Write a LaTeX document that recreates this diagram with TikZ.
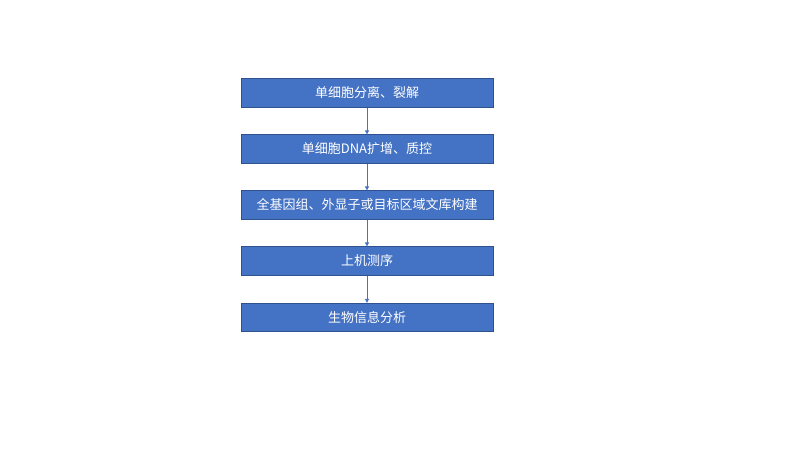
\documentclass[tikz,border=0pt]{standalone}
\usepackage{fontspec}
\newfontfamily\cjk{Noto Sans CJK SC}
\usetikzlibrary{arrows.meta}
\definecolor{boxfill}{HTML}{4472C4}
\definecolor{boxline}{HTML}{2F528F}
\begin{document}
\begin{tikzpicture}[x=1pt,y=1pt,
  stepbox/.style={draw=boxline,line width=0.8pt,fill=boxfill,minimum width=252pt,minimum height=28.5pt,inner sep=0pt,text=white,font=\cjk\fontsize{13}{15}\selectfont},
  conn/.style={draw=boxfill,line width=0.9pt,-{Triangle[length=4pt,width=4pt]}}]
\useasboundingbox[fill=white] (0,0) rectangle (800,450);
\node[stepbox] (s1) at (367,357) {单细胞分离、裂解};
\node[stepbox] (s2) at (367,301) {单细胞DNA扩增、质控};
\node[stepbox] (s3) at (367,245) {全基因组、外显子或目标区域文库构建};
\node[stepbox] (s4) at (367,189) {上机测序};
\node[stepbox] (s5) at (367,132.5) {生物信息分析};
\draw[conn] (s1) -- (s2);
\draw[conn] (s2) -- (s3);
\draw[conn] (s3) -- (s4);
\draw[conn] (s4) -- (s5);
\end{tikzpicture}
\end{document}
